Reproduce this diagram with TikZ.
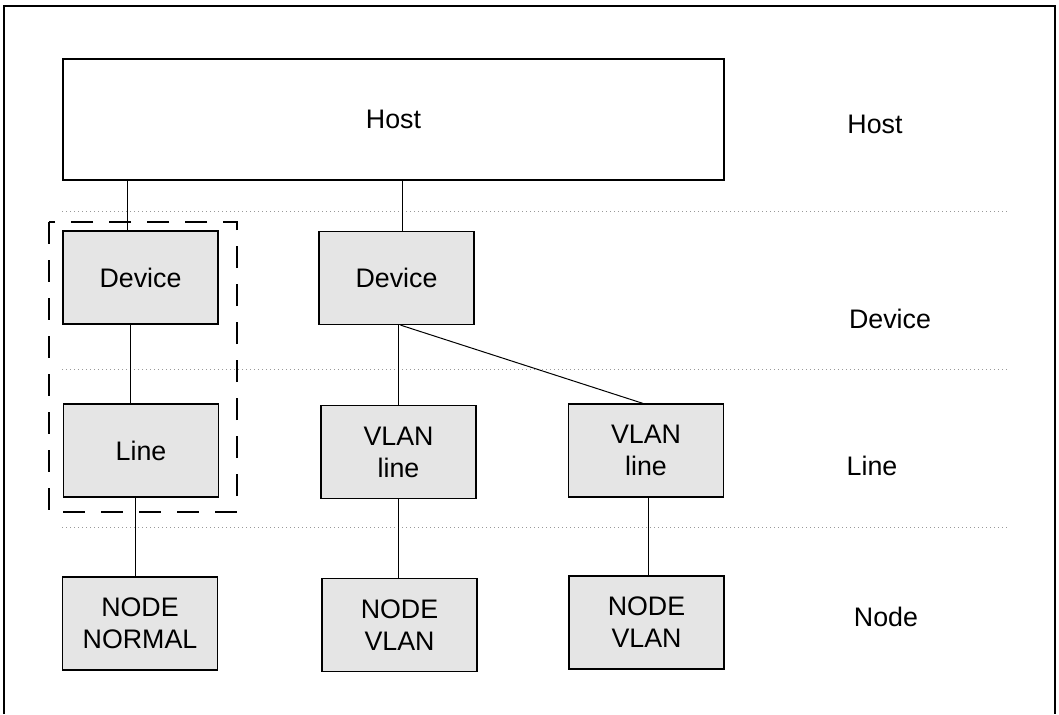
\documentclass[tikz,border=0pt]{standalone}
\usepackage{fontspec}
\setmainfont{Liberation Sans}
\usepackage{tikz}

\tikzset{
	layerbox/.style={draw, line width=0.6pt, fill=gray!20, minimum width=77.5pt, minimum height=46.5pt, align=center, inner sep=0pt},
	hostbox/.style={draw, line width=0.6pt, minimum width=330.5pt, minimum height=60.5pt},
	layersep/.style={gray!80, line width=0.4pt, dash pattern=on 0.6pt off 1.4pt},
	groupbox/.style={line width=0.6pt, dash pattern=on 11pt off 8pt},
	link/.style={line width=0.5pt}
}

\begin{document}
\begin{tikzpicture}[x=0.5pt, y=-0.5pt, font=\fontsize{13.4}{16}\selectfont]
		\useasboundingbox (0,0) rectangle (1059,714);
		% frame, open at the bottom
		\draw[line width=0.6pt] (4,714) -- (4,6) -- (1055,6) -- (1055,714);
		% layer separators
		\draw[layersep] (62,211) -- (1008,211);
		\draw[layersep] (62,369) -- (1008,369);
		\draw[layersep] (62,527) -- (1008,527);
		% boxes
		\node[hostbox](host) at (393.5,119.5) {Host};
		\node[layerbox](devA) at (140.5,277.5) {Device};
		\node[layerbox](devB) at (396.5,278) {Device};
		\node[layerbox](lineA) at (141,450.5) {Line};
		\node[layerbox](vlanB) at (398.5,452) {VLAN\\line};
		\node[layerbox](vlanC) at (646,450.5) {VLAN\\line};
		\node[layerbox](nodeA) at (140,623.5) {NODE\\NORMAL};
		\node[layerbox](nodeB) at (399.5,625) {NODE\\VLAN};
		\node[layerbox](nodeC) at (646.5,622.5) {NODE\\VLAN};
		% dashed group round the left column
		\draw[groupbox] (49,222) rectangle (237,512);
		% layer names
		\node(lhost) at (875,124) {Host};
		\node(ldev) at (890,319) {Device};
		\node(lline) at (872,466) {Line};
		\node(lnode) at (886,617) {Node};
		% links
		\draw[link] ([xshift=-6.75pt]devA.north) -- ([xshift=-6.75pt]devA.north |- host.south);
		\draw[link] ([xshift=2.75pt]devB.north) -- ([xshift=2.75pt]devB.north |- host.south);
		\draw[link] ([xshift=-5.5pt]lineA.north) -- ([xshift=-5.5pt]lineA.north |- devA.south);
		\draw[link] ([xshift=-2.5pt]nodeA.north) -- ([xshift=-2.5pt]nodeA.north |- lineA.south);
		\draw[link] (vlanB.north) -- (vlanB.north |- devB.south);
		\draw[link] ([xshift=2pt]devB.south) -- ([xshift=-1.5pt]vlanC.north);
		\draw[link] ([xshift=-0.75pt]nodeB.north) -- ([xshift=-0.75pt]nodeB.north |- vlanB.south);
		\draw[link] ([xshift=0.75pt]nodeC.north) -- ([xshift=0.75pt]nodeC.north |- vlanC.south);
	\end{tikzpicture}
\end{document}
